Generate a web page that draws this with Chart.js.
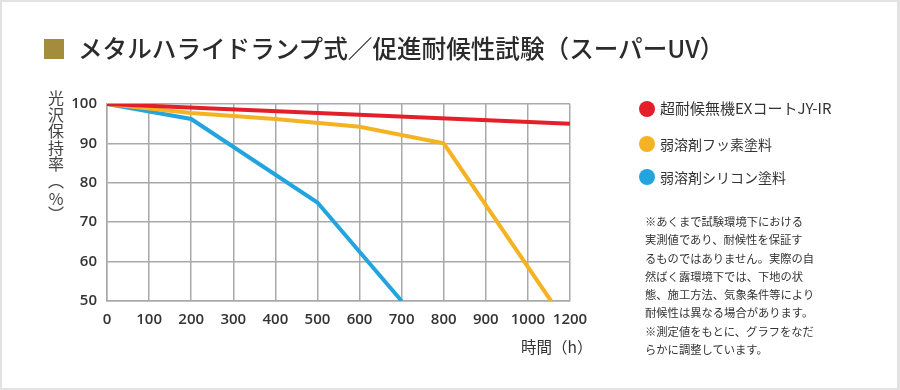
<!DOCTYPE html>
<html>
<head>
<meta charset="utf-8">
<script src="https://cdn.jsdelivr.net/npm/chart.js@4/dist/chart.umd.min.js"></script>
<style>
  html, body { margin: 0; padding: 0; background: #fff; }
  #frame { position: relative; width: 900px; height: 390px; box-sizing: border-box;
           border: 2px solid #e2e2e2; border-right-width: 3px; overflow: hidden;
           font-family: "Noto Sans CJK JP", "Noto Sans", sans-serif; color: #333; }
  #chart { position: absolute; left: -2px; top: -2px; }
  .abs { position: absolute; white-space: nowrap; }
  #title { left: 76px; top: 28px; font-size: 24.6px; font-weight: 500; color: #2b2b2b; line-height: 34px; }
  #mark { left: 42px; top: 37px; width: 20px; height: 20px; background: #a38c3b; }
  #ytitle { left: 45px; top: 88px; writing-mode: vertical-rl; text-orientation: mixed;
            font-size: 16px; color: #444; line-height: 18px; letter-spacing: 0.6px; }
  #ytitle .u { text-combine-upright: all; }
  #xtitle { left: 519px; top: 333px; font-size: 15.5px; color: #333; }
  .dot { position: absolute; width: 16px; height: 16px; border-radius: 50%; }
  .leg { left: 658px; font-size: 14px; color: #333; line-height: 18px; }
  #note { left: 643px; top: 210px; font-size: 11.3px; line-height: 18.3px; color: #333; }
</style>
</head>
<body>
<div id="frame">
  <canvas id="chart" width="900" height="390"></canvas>
  <div class="abs" id="mark"></div>
  <div class="abs" id="title">メタルハライドランプ式／促進耐候性試験（スーパーUV）</div>
  <div class="abs" id="ytitle">光沢保持率（<span class="u">%</span>）</div>
  <div class="abs" id="xtitle">時間（h）</div>
  <div id="legend"></div>
  <div class="abs" id="note">※あくまで試験環境下における<br>実測値であり、耐候性を保証す<br>るものではありません。実際の自<br>然ばく露環境下では、下地の状<br>態、施工方法、気象条件等により<br>耐候性は異なる場合があります。<br>※測定値をもとに、グラフをなだ<br>らかに調整しています。</div>
</div>
<script>
var seriesNames = ["超耐候無機EXコートJY-IR", "弱溶剤フッ素塗料", "弱溶剤シリコン塗料"];
var seriesColors = ["#e3202a", "#f5b324", "#22a5df"];

var exHours = [0, 1100];
var exValues = [100, 95];

var fluoroHours = [0, 200, 400, 600, 800, 1055];
var fluoroValues = [100, 97.7, 96.2, 94.2, 90, 50];

var siliconeHours = [0, 200, 500, 700];
var siliconeValues = [100, 96.2, 75, 50];

var xTickLabels = ["0", "100", "200", "300", "400", "500", "600", "700", "800", "900", "1000", "1200"];
var yTickLabels = ["50", "60", "70", "80", "90", "100"];

function points(xs, ys) {
    var out = [];
    xs.forEach(function(x, i) { out.push({ x: x, y: ys[i] }); });
    return out;
}

// legend
var legendTops = [99, 134, 167];
var legend = document.getElementById('legend');
seriesNames.forEach(function(name, i) {
    var dot = document.createElement('div');
    dot.className = 'dot';
    dot.style.left = '637px';
    dot.style.top = legendTops[i] + 'px';
    dot.style.background = seriesColors[i];
    legend.appendChild(dot);
    var t = document.createElement('div');
    t.className = 'abs leg';
    t.style.top = (legendTops[i] - 1) + 'px';
    if (i == 0) { t.style.fontSize = '15px'; t.style.top = (legendTops[i] - 2) + 'px'; }
    t.textContent = name;
    legend.appendChild(t);
});

var tickFont = { family: "'Open Sans', sans-serif", size: 15, weight: '600' };
var gridStyle = { color: '#a9a9a9', lineWidth: 1.5, drawTicks: false };

var ctx = document.getElementById('chart');
var chart = new Chart(ctx, {
    type: 'line',
    data: {
        datasets: [
            { label: seriesNames[0], data: points(exHours, exValues), borderColor: seriesColors[0] },
            { label: seriesNames[1], data: points(fluoroHours, fluoroValues), borderColor: seriesColors[1] },
            { label: seriesNames[2], data: points(siliconeHours, siliconeValues), borderColor: seriesColors[2] },
        ]
    },
    options: {
        responsive: false,
        animation: false,
        layout: { padding: { left: 0, top: 104, right: 330, bottom: 0 } },
        elements: {
            line: { borderWidth: 4, tension: 0, borderCapStyle: 'butt' },
            point: { radius: 0 }
        },
        plugins: { legend: { display: false }, tooltip: { enabled: false } },
        scales: {
            x: {
                type: 'linear', min: 0, max: 1100,
                grid: gridStyle,
                border: { color: '#a9a9a9', width: 1.5 },
                ticks: {
                    stepSize: 100, padding: 10, color: '#333', font: tickFont, maxRotation: 0,
                    callback: function(v) { return xTickLabels[Math.round(v / 100)]; }
                },
                afterFit: function(s) { s.height = 89; }
            },
            y: {
                min: 50, max: 100,
                grid: gridStyle,
                border: { color: '#a9a9a9', width: 1.5 },
                ticks: {
                    stepSize: 10, padding: 10, color: '#333', font: tickFont,
                    callback: function(v) { return yTickLabels[Math.round((v - 50) / 10)]; }
                },
                afterFit: function(s) { s.width = 107; }
            }
        }
    }
});
</script>
</body>
</html>
